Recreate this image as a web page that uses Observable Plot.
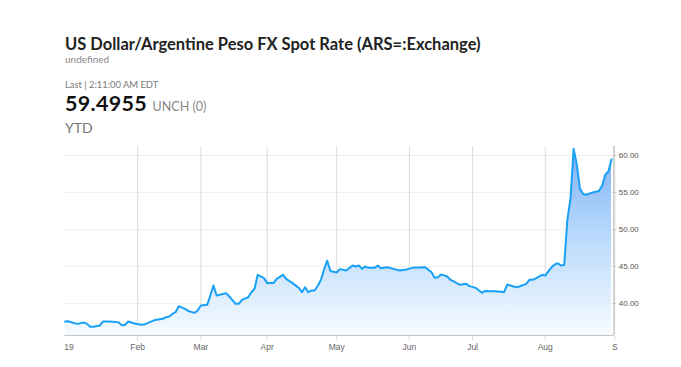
<!DOCTYPE html>
<html>
<head>
<meta charset="utf-8">
<script src="https://cdn.jsdelivr.net/npm/d3@7"></script>
<script src="https://cdn.jsdelivr.net/npm/@observablehq/plot@0.6"></script>
<style>
  html, body { margin: 0; padding: 0; background: #fff; }
  body { width: 681px; height: 367px; position: relative; overflow: hidden; font-family: Lato, "Liberation Sans", Arial, sans-serif; }
  .t { position: absolute; left: 65px; white-space: nowrap; line-height: 1; }
  #chart { position: absolute; left: 0; top: 140px; }
</style>
</head>
<body>
<div class="t" id="title" style="top:35.5px;font-size:16.5px;font-weight:700;color:#222;">US Dollar/Argentine Peso FX Spot Rate (ARS=:Exchange)</div>
<div class="t" style="top:54px;font-size:10px;color:#888;">undefined</div>
<div class="t" style="top:80px;font-size:9.4px;color:#777;">Last | 2:11:00 AM EDT</div>
<div class="t" style="top:95.4px;font-size:21.5px;line-height:17px;font-weight:700;color:#111;letter-spacing:0.3px;">59.4955 <span style="font-size:12.5px;font-weight:400;color:#888;letter-spacing:0;">UNCH (0)</span></div>
<div class="t" style="top:121px;font-size:14px;color:#777;">YTD</div>
<div id="chart"></div>
<script>
// ---- data ----
const dates = [
  "2019-01-01","2019-01-02","2019-01-04","2019-01-07","2019-01-09","2019-01-10","2019-01-11","2019-01-14","2019-01-16","2019-01-17",
  "2019-01-21","2019-01-23","2019-01-24","2019-01-25","2019-01-28","2019-01-29","2019-01-31",
  "2019-02-04","2019-02-05","2019-02-08","2019-02-11","2019-02-13","2019-02-14","2019-02-15","2019-02-18","2019-02-19","2019-02-20",
  "2019-02-22","2019-02-25","2019-02-27","2019-02-28",
  "2019-03-01","2019-03-05","2019-03-06","2019-03-07","2019-03-08","2019-03-13","2019-03-14","2019-03-18","2019-03-19","2019-03-20",
  "2019-03-22","2019-03-25","2019-03-26","2019-03-27","2019-03-29",
  "2019-04-01","2019-04-03","2019-04-04","2019-04-08","2019-04-09","2019-04-11","2019-04-15","2019-04-16","2019-04-17","2019-04-18",
  "2019-04-19","2019-04-22","2019-04-23","2019-04-24","2019-04-25","2019-04-26","2019-04-29","2019-04-30",
  "2019-05-01","2019-05-02","2019-05-06","2019-05-08","2019-05-09","2019-05-10","2019-05-13","2019-05-14","2019-05-15","2019-05-17",
  "2019-05-20","2019-05-21","2019-05-23","2019-05-27","2019-05-29","2019-05-31",
  "2019-06-04","2019-06-10","2019-06-12","2019-06-13","2019-06-14","2019-06-17","2019-06-18","2019-06-19","2019-06-20","2019-06-21",
  "2019-06-25","2019-06-27","2019-06-28",
  "2019-07-02","2019-07-03","2019-07-04","2019-07-05","2019-07-09","2019-07-10","2019-07-12","2019-07-15","2019-07-16","2019-07-18",
  "2019-07-19","2019-07-22","2019-07-24","2019-07-25","2019-07-26","2019-07-29","2019-07-30","2019-07-31",
  "2019-08-01","2019-08-02","2019-08-05","2019-08-06","2019-08-07","2019-08-08","2019-08-09","2019-08-12","2019-08-13","2019-08-14",
  "2019-08-15","2019-08-16","2019-08-19","2019-08-20","2019-08-21","2019-08-22","2019-08-23","2019-08-26","2019-08-27","2019-08-28",
  "2019-08-29","2019-08-30"
];
const values = [
  37.57,37.60,37.34,37.25,37.43,37.25,36.85,36.85,37.03,37.57,
  37.57,37.52,37.43,37.05,37.12,37.57,37.30,
  37.12,37.16,37.70,37.80,37.93,38.15,38.24,38.60,38.83,39.64,
  39.28,39.00,38.74,39.05,
  39.73,39.82,41.08,42.43,41.08,41.40,40.95,39.96,39.96,40.50,
  40.85,41.53,42.00,43.88,43.43,
  42.76,42.76,43.34,43.88,43.34,42.76,42.12,41.53,42.20,41.53,
  41.76,41.76,42.40,43.20,44.60,45.80,44.40,44.30,
  44.20,44.65,44.46,45.14,45.00,45.14,44.68,45.00,44.82,44.82,
  45.14,44.77,44.91,44.68,44.46,44.59,
  44.82,44.90,44.23,43.47,43.56,43.92,43.80,43.65,43.20,43.01,
  42.53,42.66,42.35,
  42.12,41.76,41.45,41.70,41.66,41.66,41.60,41.53,42.57,42.30,
  42.20,42.34,42.66,43.20,43.20,43.40,43.65,43.88,
  43.78,44.35,44.90,45.27,45.45,45.14,45.20,51.30,54.20,60.90,
  58.75,55.50,54.80,54.70,54.85,55.00,55.10,55.20,55.90,57.40,
  57.84,59.4955
];
const monthTickDates = ["2019-01-01","2019-02-01","2019-03-01","2019-04-01","2019-05-01","2019-06-03","2019-07-01","2019-08-01","2019-09-02"];
const monthTickLabels = ["19","Feb","Mar","Apr","May","Jun","Jul","Aug","S"];
const yTicks = [40, 45, 50, 55, 60];

// x position = count of weekdays since Jan 1 2019 (the chart skips weekends)
const origin = Date.UTC(2019, 0, 1);
function weekdayIndex(s) {
  const end = new Date(s + "T00:00:00Z").getTime();
  let n = 0;
  for (let t = origin; t < end; t += 864e5) {
    const g = new Date(t).getUTCDay();
    if (g !== 0 && g !== 6) n++;
  }
  return n;
}
const data = dates.map((d, i) => ({ x: weekdayIndex(d), v: values[i] }));
const ticks = monthTickDates.map((d, i) => ({ x: weekdayIndex(d), label: monthTickLabels[i] }));

const yMin = 35.68, yMax = 61.22;
const xMax = 173.7;
const tickLenY = 0.68;  // 5px below the axis, in y units
const tickLenX = 0.95;  // 3px right of the axis, in x units

const plot = Plot.plot({
  width: 681,
  height: 227,
  marginLeft: 64.5,
  marginRight: 67.7,
  marginTop: 6,
  marginBottom: 32,
  x: { type: "linear", domain: [0, xMax], axis: null },
  y: { type: "linear", domain: [yMin, yMax], axis: null },
  style: { fontFamily: "Arial, 'Liberation Sans', sans-serif", background: "transparent", overflow: "visible" },
  marks: [
    Plot.ruleY(yTicks, { stroke: "#efefef", strokeWidth: 1 }),
    Plot.ruleX(ticks.slice(1), { x: "x", y1: yMin - tickLenY, y2: yMax, stroke: "#dcdcdc", strokeWidth: 1 }),
    Plot.areaY(data, { x: "x", y1: yMin, y2: "v", fill: "url(#fxgrad)" }),
    Plot.lineY(data, { x: "x", y: "v", stroke: "#1aa1f5", strokeWidth: 2, strokeLinejoin: "round" }),
    Plot.ruleY([yMin], { stroke: "#c4c4c4", strokeWidth: 1.2 }),
    Plot.ruleX([xMax], { y1: yMin, y2: yMax, stroke: "#c4c4c4", strokeWidth: 1.2 }),
    Plot.ruleY(yTicks, { x1: xMax, x2: xMax + tickLenX, stroke: "#c4c4c4" }),
    Plot.text(ticks.slice(0, 1), { x: "x", y: yMin, text: "label", dy: 12, dx: 4, fill: "#666", fontSize: 8.5, textAnchor: "middle" }),
    Plot.text(ticks.slice(1), { x: "x", y: yMin, text: "label", dy: 12, fill: "#666", fontSize: 8.5, textAnchor: "middle" }),
    Plot.text(yTicks, { x: xMax, y: d => d, text: d => d.toFixed(2), dx: 5, fill: "#555", fontSize: 8, textAnchor: "start" })
  ]
});

// gradient definition for the area fill
const ns = "http://www.w3.org/2000/svg";
const defs = document.createElementNS(ns, "defs");
const grad = document.createElementNS(ns, "linearGradient");
grad.setAttribute("id", "fxgrad");
grad.setAttribute("x1", "0"); grad.setAttribute("x2", "0");
grad.setAttribute("y1", "0"); grad.setAttribute("y2", "1");
[["0%", "#7fb0f6"], ["45%", "#b6d8fb"], ["100%", "#f6fbff"]].forEach(([o, c]) => {
  const s = document.createElementNS(ns, "stop");
  s.setAttribute("offset", o); s.setAttribute("stop-color", c);
  grad.appendChild(s);
});
defs.appendChild(grad);
plot.insertBefore(defs, plot.firstChild);

document.getElementById("chart").appendChild(plot);
</script>
</body>
</html>
